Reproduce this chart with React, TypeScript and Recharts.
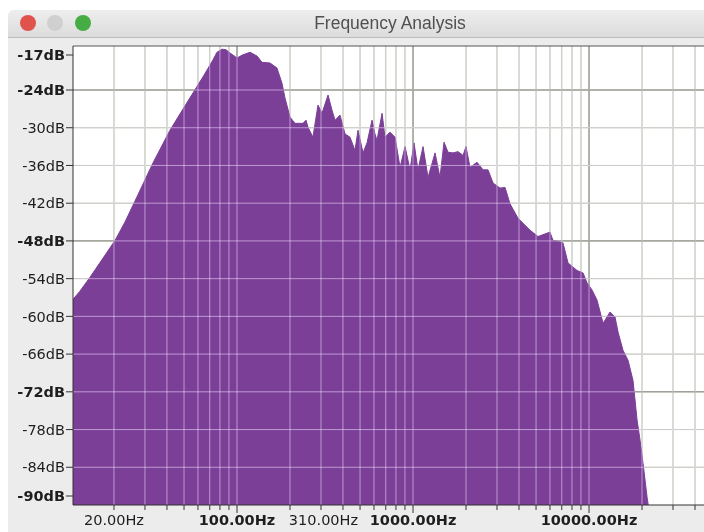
import { ComposedChart, Area, XAxis, YAxis, CartesianGrid, ReferenceLine } from "recharts";

// spectrum (Hz / dB)
const freqs = [
  11.7, 12.8, 14.6, 16.7, 20.3, 23.1, 27.0, 33.3, 41.6, 52.0, 64.1, 73.1, 76.9, 82.2, 86.6,
  91.2, 100, 108, 118.6, 130, 138.7, 154, 168.7, 180, 187.5, 200, 213.6, 237, 246.6, 253,
  270, 288.5, 304, 329, 346.5, 360.6, 384.7, 411, 438.5, 468, 487, 520, 548, 585, 608,
  624, 667, 693, 740, 790, 844, 901, 962, 1013, 1067, 1140, 1217, 1334, 1423, 1500,
  1581, 1688, 1802, 1924, 2000, 2108, 2310, 2500, 2668, 2850, 3120, 3333, 3558, 3951, 4625,
  5130, 6000, 6240, 7110, 7600, 8550, 9250, 9750, 10400, 11100, 12020, 13160, 14050, 14620, 15600,
  16670, 17780, 18750, 19500, 20280, 21380, 21700,
];
const levels = [
  -57.3, -56.0, -53.8, -51.4, -47.9, -45.0, -41.0, -35.6, -30.4, -26.0, -21.9, -19.2, -18.0, -17.5, -17.6,
  -18.1, -18.9, -18.4, -18.0, -18.6, -19.6, -19.7, -20.5, -22.9, -25.3, -28.3, -29.3, -29.3, -28.8, -29.9,
  -31.5, -26.4, -27.7, -24.8, -27.2, -28.8, -28.0, -31.0, -31.5, -33.6, -30.4, -34.0, -32.4, -28.8, -31.0,
  -32.0, -27.7, -31.5, -30.7, -31.5, -36.3, -33.0, -36.7, -32.4, -36.7, -33.0, -37.9, -34.0, -37.9, -32.3,
  -33.9, -34.0, -33.8, -34.4, -33.0, -36.3, -35.5, -36.7, -36.7, -38.8, -39.6, -39.5, -42.1, -44.4, -46.3,
  -47.3, -46.6, -47.9, -48.3, -51.5, -52.7, -53.1, -54.7, -55.8, -57.4, -61.1, -59.3, -60.1, -62.5, -65.4,
  -67.0, -70.2, -76.5, -79.7, -83.4, -88.8, -90,
];

const yTicks = [-90, -84, -78, -72, -66, -60, -54, -48, -42, -36, -30, -24, -17];
const boldDb = [-17, -24, -48, -72, -90];
const gridDb = [-84, -78, -72, -66, -60, -54, -48, -42, -36, -30, -24];
const majorDb = [-24, -48, -72];

const gridFreqs = [
  20, 30, 40, 50, 60, 70, 80, 90,
  100, 200, 300, 400, 500, 600, 700, 800, 900,
  1000, 2000, 3000, 4000, 5000, 6000, 7000, 8000, 9000,
  10000, 20000, 30000, 40000,
];
const majorFreqs = [100, 1000, 10000];
const labelFreqs = [20, 100, 310, 1000, 10000];
const labelTexts = ["20.00Hz", "100.00Hz", "310.00Hz", "1000.00Hz", "10000.00Hz"];
const boldFreqs = [100, 1000, 10000];

const xTicks = [...gridFreqs, 310].sort((a, b) => a - b);
const data = freqs.map((f, i) => ({ f, db: levels[i] }));

const PURPLE = "#7b3f97";
const FONT = "'DejaVu Sans', Verdana, sans-serif";
// grid under the fill + a screen-blended copy on top, so lines read gray on white, lilac on purple
const GRID_MINOR = "#99a18b";
const GRID_MAJOR = "#2a3810";
const GRID_OVER = "#807590";

function DbTick(props: any) {
  const { x, y, payload } = props;
  const v = payload.value;
  const yy = v === -17 ? y + 9 : v === -90 ? y - 9 : y;
  return (
    <g>
      <line x1={x + 1} x2={x + 8} y1={yy} y2={yy} stroke="#333" />
      <text
        x={x}
        y={yy}
        dy="0.36em"
        textAnchor="end"
        fontFamily={FONT}
        fontSize={14.5}
        fontWeight={boldDb.includes(v) ? 700 : 400}
        fill="#1e1e1e"
      >
        {v}dB
      </text>
    </g>
  );
}

function HzTick(props: any) {
  const { x, y, payload } = props;
  const v = payload.value;
  const y0 = y - 8;
  const idx = labelFreqs.indexOf(v);
  const onGrid = gridFreqs.includes(v);
  return (
    <g>
      {onGrid && (
        <line x1={x} x2={x} y1={y0} y2={y0 + (majorFreqs.includes(v) ? 8 : 5)} stroke="#333" />
      )}
      {idx >= 0 && (
        <text
          x={x}
          y={y0 + 20}
          textAnchor="middle"
          fontFamily={FONT}
          fontSize={14.5}
          fontWeight={boldFreqs.includes(v) ? 700 : 400}
          fill="#1e1e1e"
        >
          {labelTexts[idx]}
        </text>
      )}
    </g>
  );
}

export default function App() {
  return (
    <div style={{ position: "absolute", left: 0, top: 0, width: 704, height: 532, background: "#fff", overflow: "hidden" }}>
      <style>{`.ov { mix-blend-mode: screen; }`}</style>
      <div
        style={{
          position: "absolute",
          left: 8,
          top: 10,
          width: 720,
          height: 540,
          background: "#ececec",
          borderTopLeftRadius: 6,
          overflow: "hidden",
        }}
      >
        <div
          style={{
            height: 27,
            background: "linear-gradient(#eeeeee, #dcdcdc)",
            borderBottom: "1px solid #bdbdbd",
            position: "relative",
          }}
        >
          {["#e0524c", "#d0d0d0", "#46ad45"].map((c, i) => (
            <span
              key={c}
              style={{
                position: "absolute",
                left: 11.5 + i * 27.5,
                top: 4.5,
                width: 16,
                height: 16,
                borderRadius: "50%",
                background: c,
              }}
            />
          ))}
          <div
            style={{
              position: "absolute",
              left: 0,
              width: 764,
              top: 3,
              textAlign: "center",
              fontFamily: "'Liberation Sans', Arial, sans-serif",
              fontSize: 17.5,
              color: "#505050",
            }}
          >
            Frequency Analysis
          </div>
        </div>
      </div>
      <div style={{ position: "absolute", left: 0, top: 0 }}>
        <ComposedChart width={704} height={532} data={data} margin={{ top: 46, right: 0, bottom: 0, left: 0 }}>
          <CartesianGrid horizontal={false} vertical={false} fill="#ffffff" />
          {gridFreqs.map((f) => (
            <ReferenceLine
              key={"bx" + f}
              x={f}
              zIndex={-50}
              stroke={majorFreqs.includes(f) ? GRID_MAJOR : GRID_MINOR}
            />
          ))}
          {gridDb.map((d) => (
            <ReferenceLine
              key={"by" + d}
              y={d}
              zIndex={-50}
              stroke={majorDb.includes(d) ? GRID_MAJOR : GRID_MINOR}
            />
          ))}
          <Area
            dataKey="db"
            type="linear"
            fill={PURPLE}
            fillOpacity={1}
            stroke={PURPLE}
            strokeWidth={1}
            baseValue="dataMin"
            isAnimationActive={false}
            dot={false}
            activeDot={false}
          />
          {gridFreqs.map((f) => (
            <ReferenceLine key={"ox" + f} x={f} zIndex={450} className="ov" stroke={GRID_OVER} />
          ))}
          {gridDb.map((d) => (
            <ReferenceLine key={"oy" + d} y={d} zIndex={450} className="ov" stroke={GRID_OVER} />
          ))}
          <ReferenceLine y={-17} zIndex={460} stroke="#555" />
          <XAxis
            dataKey="f"
            type="number"
            scale="log"
            domain={[11.7, 45000]}
            allowDataOverflow
            ticks={xTicks}
            interval={0}
            height={27}
            tick={<HzTick />}
            tickLine={false}
            axisLine={{ stroke: "#333" }}
          />
          <YAxis
            type="number"
            domain={[-90, -17]}
            allowDataOverflow
            ticks={yTicks}
            interval={0}
            width={73}
            tick={<DbTick />}
            tickLine={false}
            axisLine={{ stroke: "#333" }}
          />
        </ComposedChart>
      </div>
    </div>
  );
}
